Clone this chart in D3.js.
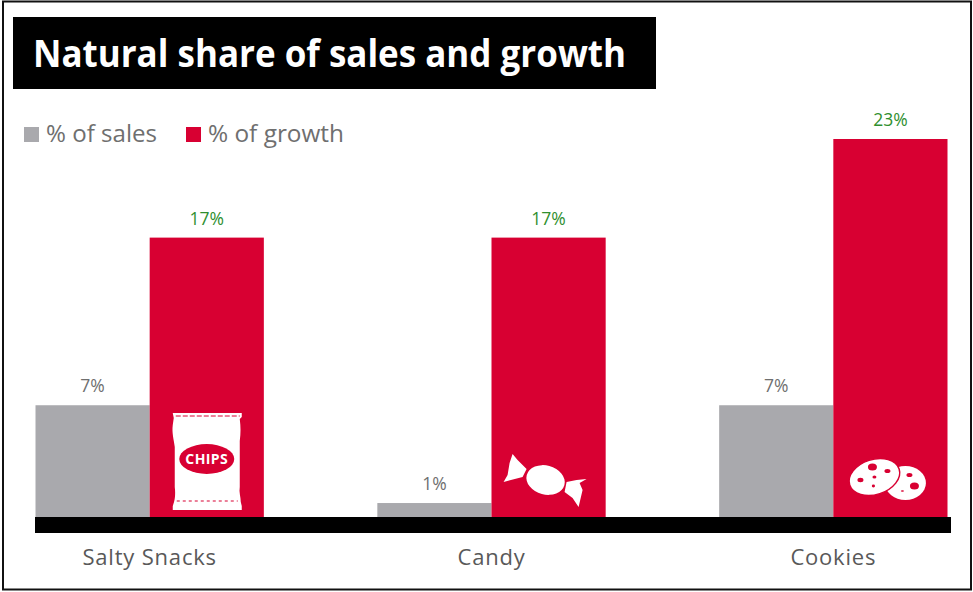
<!DOCTYPE html>
<meta charset="utf-8">
<style type="text/css">
    html, body { margin: 0; padding: 0; background: #fff; }
    svg { display: block; }
    text { font-family: "Open Sans", sans-serif; }
</style>
<body>
<script src="https://cdn.jsdelivr.net/npm/d3@7"></script>
<script>
var categories = ["Salty Snacks", "Candy", "Cookies"];
var seriesNames = ["% of sales", "% of growth"];
var salesValues = [6.8, 0.85, 6.8];
var growthValues = [17, 17, 23];
var salesLabels = ["7%", "1%", "7%"];
var growthLabels = ["17%", "17%", "23%"];
var titleText = "Natural share of sales and growth";

var red = "#d80032", gray = "#a9a9ad", labelGray = "#6f6f6f", green = "#2f8f2f";

var width = 973, height = 592;
var svg = d3.select("body").append("svg").attr("width", width).attr("height", height);

//outer frame
svg.append("rect").attr("x", 3).attr("y", 1.5).attr("width", 968).attr("height", 588)
  .attr("fill", "#fff").attr("stroke", "#111").attr("stroke-width", 2);

//title box
svg.append("rect").attr("x", 13).attr("y", 17).attr("width", 643).attr("height", 72).attr("fill", "#000");
svg.append("text").attr("x", 33).attr("y", 67)
  .attr("fill", "#fff").style("font-size", "37px").style("font-weight", 700)
  .attr("textLength", 593).attr("lengthAdjust", "spacingAndGlyphs")
  .text(titleText);

//legend
var legendX = [24, 186], legendW = [111, 136];
seriesNames.forEach(function(name, i){
  svg.append("rect").attr("x", legendX[i]).attr("y", 127).attr("width", 15).attr("height", 15)
    .attr("fill", i == 0 ? gray : red);
  svg.append("text").attr("x", legendX[i] + 22).attr("y", 142)
    .attr("fill", labelGray).style("font-size", "23px")
    .attr("textLength", legendW[i]).attr("lengthAdjust", "spacingAndGlyphs")
    .text(name);
});

//scales
var baseline = 517;
var x0 = d3.scaleBand().domain(categories).range([35.5, 947.5]).paddingInner(0.332).paddingOuter(0);
var x1 = d3.scaleBand().domain(seriesNames).range([0, x0.bandwidth()]);
var y = d3.scaleLinear().domain([0, 23]).range([baseline, 139]);

var rows = categories.map(function(c, i){
  return {cat: c, values: [
    {series: seriesNames[0], value: salesValues[i], label: salesLabels[i], color: gray, labelColor: labelGray},
    {series: seriesNames[1], value: growthValues[i], label: growthLabels[i], color: red, labelColor: green}
  ]};
});

var groups = svg.selectAll(".group").data(rows).enter().append("g")
  .attr("class", "group")
  .attr("transform", function(d){ return "translate(" + x0(d.cat) + ",0)"; });

groups.selectAll("rect").data(function(d){ return d.values; }).enter().append("rect")
  .attr("x", function(d){ return x1(d.series); })
  .attr("y", function(d){ return y(d.value); })
  .attr("width", x1.bandwidth())
  .attr("height", function(d){ return baseline - y(d.value); })
  .attr("fill", function(d){ return d.color; });

groups.selectAll("text").data(function(d){ return d.values; }).enter().append("text")
  .attr("x", function(d){ return x1(d.series) + x1.bandwidth() / 2; })
  .attr("y", function(d){ return y(d.value) - 13; })
  .attr("text-anchor", "middle")
  .attr("fill", function(d){ return d.labelColor; })
  .style("font-size", "17.5px")
  .text(function(d){ return d.label; });

//thick black axis band with category names under it
svg.append("rect").attr("x", 35).attr("y", baseline).attr("width", 916).attr("height", 16).attr("fill", "#000");
var axis = svg.append("g").attr("transform", "translate(0," + baseline + ")")
  .call(d3.axisBottom(x0).tickSize(0).tickPadding(32));
axis.select(".domain").remove();
axis.selectAll("text").attr("fill", "#595959").style("font-size", "22px").style("letter-spacing", "0.8px")
  .style("font-family", '"Open Sans", sans-serif');

//white icons drawn on the red bars, local origin = bar centre at the baseline
function iconAt(i){
  return svg.append("g").attr("transform", "translate(" + (x0(categories[i]) + x1(seriesNames[1]) + x1.bandwidth() / 2) + "," + baseline + ")");
}

//chips bag
var chips = iconAt(0);
chips.append("path").attr("fill", "#fff")
  .attr("d", "M-34,-104 L35,-104 L35,-100 L33,-98 C34,-90 34,-84 33,-76 L33,-30 C32,-25 34,-20 34,-15 L35,-11 L35,-7 L-34,-7 L-34,-11 C-32,-16 -31,-22 -32,-30 L-32,-70 C-33,-78 -35,-84 -34,-92 L-33,-99 Z");
chips.append("line").attr("x1", -31).attr("x2", 33).attr("y1", -101).attr("y2", -101)
  .attr("stroke", red).attr("stroke-width", 1).attr("stroke-dasharray", "5,2");
chips.append("line").attr("x1", -30).attr("x2", 31).attr("y1", -16).attr("y2", -16)
  .attr("stroke", red).attr("stroke-width", 1.2).attr("stroke-dasharray", "3,3");
chips.append("ellipse").attr("cx", 0).attr("cy", -58).attr("rx", 27.5).attr("ry", 15).attr("fill", red);
chips.append("text").attr("x", 0).attr("y", -53).attr("text-anchor", "middle").attr("fill", "#fff")
  .style("font-size", "14px").style("font-weight", 700).style("letter-spacing", "0.4px").text("CHIPS");

//candy
var candy = iconAt(1);
candy.append("ellipse").attr("cx", -3).attr("cy", -37).attr("rx", 19.5).attr("ry", 14.5)
  .attr("transform", "rotate(15 -3 -37)").attr("fill", "#fff");
candy.append("path").attr("fill", "#fff").attr("d", "M-36,-63 L-31,-57 L-22,-48 L-26,-40 L-45,-35 L-41,-42 L-39,-54 Z");
candy.append("path").attr("fill", "#fff").attr("d", "M38,-38 L31,-34 L34,-27 L30,-10 L24,-19 L16,-25 L18,-35 L28,-37 Z");

//cookies
var cookies = iconAt(2);
cookies.append("ellipse").attr("cx", 15).attr("cy", -34).attr("rx", 20.5).attr("ry", 17).attr("fill", "#fff");
cookies.append("ellipse").attr("cx", -16).attr("cy", -40).attr("rx", 26).attr("ry", 17.5)
  .attr("transform", "rotate(-18 -16 -40)").attr("fill", "#fff").attr("stroke", red).attr("stroke-width", 1.5);
var crumbs = [[-18, -50, 4.5, 3.5], [-3, -46, 3, 2], [-30, -37, 3, 2.2], [-16, -40, 2, 1.6], [-17, -31, 1.6, 1.4],
              [19, -42, 3, 2], [24, -31, 4.5, 3.5], [12, -26, 1.6, 0.7]];
cookies.selectAll(".crumb").data(crumbs).enter().append("ellipse").attr("class", "crumb")
  .attr("cx", function(d){ return d[0]; }).attr("cy", function(d){ return d[1]; })
  .attr("rx", function(d){ return d[2]; }).attr("ry", function(d){ return d[3]; })
  .attr("fill", red);
</script>
</body>
